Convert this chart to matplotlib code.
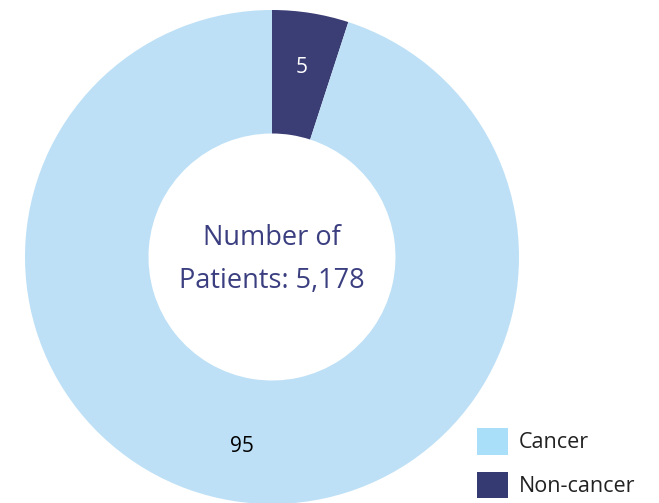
import matplotlib.pyplot as plt
from matplotlib.patches import Patch

# data
labels = ["Non-cancer", "Cancer"]
values = [5, 95]
pie_colors = ["#3b3d75", "#bde0f6"]
legend_labels = ["Cancer", "Non-cancer"]
legend_colors = ["#a9dff9", "#363a73"]
label_colors = ["white", "black"]
center_text = "Number of\nPatients: 5,178"

fig = plt.figure(figsize=(6.59, 5.03), dpi=100)
ax = fig.add_axes([25 / 659, -1 / 503, 494 / 659, 494 / 503])

wedges, texts = ax.pie(values, labels=[str(v) for v in values], colors=pie_colors,
                       startangle=90, counterclock=False, radius=1,
                       labeldistance=0.775,
                       wedgeprops=dict(width=0.5, edgecolor="none"),
                       textprops=dict(fontsize=15, family="Open Sans"))
for t, c in zip(texts, label_colors):
    t.set_color(c)
    t.set_ha("center")
    t.set_va("center")

ax.text(0, -0.01, center_text, ha="center", va="center", fontsize=19.5,
        color="#3b3f80", family="Open Sans", linespacing=1.72)
ax.set_xlim(-1, 1)
ax.set_ylim(-1, 1)

handles = [Patch(facecolor=c, edgecolor="none") for c in legend_colors]
fig.legend(handles, legend_labels, loc="upper left",
           bbox_to_anchor=(466 / 659, 1 - 417 / 503), frameon=False,
           prop=dict(family="Open Sans", size=15.5), borderpad=0,
           handlelength=1.45, handleheight=1.55, handletextpad=0.5,
           labelspacing=0.78, labelcolor="#222222")

fig.savefig("out.png", dpi=100)
